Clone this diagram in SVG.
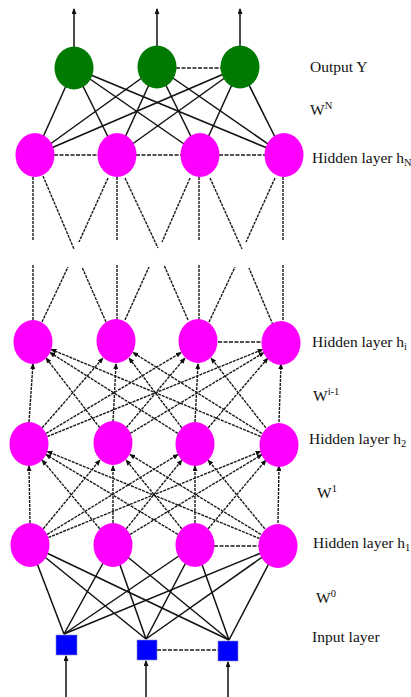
<svg xmlns="http://www.w3.org/2000/svg" width="411" height="697" viewBox="0 0 411 697">
<defs>
<marker id="ah" markerWidth="6" markerHeight="5" refX="5" refY="2.5" orient="auto" markerUnits="userSpaceOnUse"><path d="M0,0 L6,2.5 L0,5 z" fill="#111"/></marker>
<style>
.s{stroke:#111;stroke-width:1.5;fill:none}
.d{stroke:#1a1a1a;stroke-width:1.4;fill:none;stroke-dasharray:3 1}
.h{stroke:#1a1a1a;stroke-width:1.6;fill:none;stroke-dasharray:4 1.5}
.a{marker-end:url(#ah)}
.g{fill:#007a00}
.m{fill:#ff00ff}
.b{fill:#0000ff;stroke:#8888cc;stroke-width:0.6}
text{font-family:"Liberation Serif","Times New Roman",serif;font-size:15.5px;fill:#111}
.sub{font-size:10.5px}
</style>
</defs>
<rect width="411" height="697" fill="#fff"/>
<g id="connectors">
<line class="s a" x1="74" y1="47" x2="74" y2="9"/>
<line class="s a" x1="157" y1="46" x2="157" y2="9"/>
<line class="s a" x1="240" y1="46" x2="240" y2="9"/>
<g class="s">
<line x1="74" y1="68" x2="35" y2="155"/><line x1="74" y1="68" x2="117" y2="155"/><line x1="74" y1="68" x2="200" y2="155"/><line x1="74" y1="68" x2="284" y2="155"/>
<line x1="157" y1="67" x2="35" y2="155"/><line x1="157" y1="67" x2="117" y2="155"/><line x1="157" y1="67" x2="200" y2="155"/><line x1="157" y1="67" x2="284" y2="155"/>
<line x1="240" y1="67" x2="35" y2="155"/><line x1="240" y1="67" x2="117" y2="155"/><line x1="240" y1="67" x2="200" y2="155"/><line x1="240" y1="67" x2="284" y2="155"/>
</g>
<line class="h" x1="176" y1="68" x2="221" y2="68"/>
<line class="h" x1="54" y1="155" x2="98" y2="155"/>
<line class="h" x1="136" y1="155" x2="181" y2="155"/>
<line class="h" x1="219" y1="155" x2="265" y2="155"/>
<g class="d">
<line x1="33" y1="177" x2="33" y2="241"/><line x1="117" y1="177" x2="117" y2="241"/><line x1="199" y1="177" x2="199" y2="241"/><line x1="283" y1="177" x2="283" y2="241"/>
<line x1="43" y1="176" x2="74" y2="249"/><line x1="108" y1="178" x2="79" y2="242"/><line x1="125" y1="178" x2="158" y2="248"/>
<line x1="190" y1="178" x2="162" y2="242"/><line x1="210" y1="178" x2="242" y2="249"/><line x1="275" y1="178" x2="246" y2="242"/>
<line x1="33" y1="265" x2="33" y2="320"/><line x1="117" y1="265" x2="117" y2="320"/><line x1="199" y1="265" x2="199" y2="320"/><line x1="283" y1="265" x2="283" y2="320"/>
<line x1="42" y1="322" x2="68" y2="267"/><line x1="106" y1="322" x2="82" y2="267"/><line x1="125" y1="320" x2="149" y2="267"/>
<line x1="188" y1="320" x2="164" y2="265"/><line x1="209" y1="322" x2="235" y2="267"/><line x1="273" y1="325" x2="249" y2="268"/>
</g>
<line class="h" x1="218" y1="342" x2="262" y2="342"/>
<g class="d a">
<line x1="29" y1="422" x2="33" y2="364"/>
<line x1="42.2" y1="427.8" x2="102.8" y2="358.2"/>
<line x1="46.1" y1="433.4" x2="180.9" y2="352.6"/>
<line x1="47.4" y1="436.5" x2="262.6" y2="349.5"/>
<line x1="99.8" y1="427.8" x2="46.2" y2="358.2"/>
<line x1="113" y1="422" x2="116" y2="364"/>
<line x1="126.2" y1="427.8" x2="184.8" y2="358.2"/>
<line x1="130.1" y1="433.4" x2="263.9" y2="352.6"/>
<line x1="177.9" y1="433.4" x2="50.1" y2="352.6"/>
<line x1="181.8" y1="427.8" x2="129.2" y2="358.2"/>
<line x1="195" y1="422" x2="198" y2="364"/>
<line x1="208.2" y1="427.8" x2="267.8" y2="358.2"/>
<line x1="260.6" y1="436.5" x2="51.4" y2="349.5"/>
<line x1="261.9" y1="433.4" x2="133.1" y2="352.6"/>
<line x1="265.8" y1="427.8" x2="211.2" y2="358.2"/>
<line x1="279" y1="422" x2="281" y2="364"/>
</g>
<g class="d a">
<line x1="30" y1="523" x2="29" y2="466"/>
<line x1="43.2" y1="528.8" x2="99.8" y2="460.2"/>
<line x1="47.1" y1="534.4" x2="177.9" y2="454.6"/>
<line x1="48.4" y1="537.5" x2="260.6" y2="451.5"/>
<line x1="99.8" y1="528.8" x2="42.2" y2="460.2"/>
<line x1="113" y1="523" x2="113" y2="466"/>
<line x1="126.2" y1="528.8" x2="181.8" y2="460.2"/>
<line x1="130.1" y1="534.4" x2="261.9" y2="454.6"/>
<line x1="177.9" y1="534.4" x2="46.1" y2="454.6"/>
<line x1="181.8" y1="528.8" x2="126.2" y2="460.2"/>
<line x1="195" y1="523" x2="195" y2="466"/>
<line x1="208.2" y1="528.8" x2="265.8" y2="460.2"/>
<line x1="259.6" y1="538.5" x2="47.4" y2="451.5"/>
<line x1="260.9" y1="534.4" x2="130.1" y2="454.6"/>
<line x1="264.8" y1="528.8" x2="208.2" y2="460.2"/>
<line x1="278" y1="523" x2="279" y2="466"/>
</g>
<line class="h" x1="214" y1="546" x2="259" y2="546"/>
<g class="s">
<line x1="64" y1="634" x2="30" y2="545"/><line x1="64" y1="634" x2="113" y2="545"/><line x1="64" y1="634" x2="195" y2="545"/><line x1="64" y1="634" x2="278" y2="546"/>
<line x1="146" y1="639" x2="30" y2="545"/><line x1="146" y1="639" x2="113" y2="545"/><line x1="146" y1="639" x2="195" y2="545"/><line x1="146" y1="639" x2="278" y2="546"/>
<line x1="229" y1="640" x2="30" y2="545"/><line x1="229" y1="640" x2="113" y2="545"/><line x1="229" y1="640" x2="195" y2="545"/><line x1="229" y1="640" x2="278" y2="546"/>
</g>
<line class="h" x1="157" y1="650" x2="218" y2="650"/>
<line class="s a" x1="66" y1="697" x2="66" y2="656"/>
<line class="s a" x1="146" y1="697" x2="146" y2="661"/>
<line class="s a" x1="228" y1="697" x2="228" y2="662"/>
</g>
<g id="output-1"><ellipse class="g" cx="74" cy="68" rx="19.5" ry="21.5"/></g>
<g id="output-2"><ellipse class="g" cx="157" cy="67" rx="19.5" ry="21.5"/></g>
<g id="output-3"><ellipse class="g" cx="240" cy="67" rx="19.5" ry="21.5"/></g>
<g id="hN-1"><ellipse class="m" cx="35" cy="155" rx="19.5" ry="22"/></g>
<g id="hN-2"><ellipse class="m" cx="117" cy="155" rx="19.5" ry="22"/></g>
<g id="hN-3"><ellipse class="m" cx="200" cy="155" rx="19.5" ry="22"/></g>
<g id="hN-4"><ellipse class="m" cx="284" cy="155" rx="19.5" ry="22"/></g>
<g id="hi-1"><ellipse class="m" cx="33" cy="342" rx="19.5" ry="22"/></g>
<g id="hi-2"><ellipse class="m" cx="116" cy="341" rx="19.5" ry="22"/></g>
<g id="hi-3"><ellipse class="m" cx="198" cy="341" rx="19.5" ry="22"/></g>
<g id="hi-4"><ellipse class="m" cx="281" cy="343" rx="19.5" ry="22"/></g>
<g id="h2-1"><ellipse class="m" cx="29" cy="444" rx="19.5" ry="22"/></g>
<g id="h2-2"><ellipse class="m" cx="113" cy="443" rx="19.5" ry="22"/></g>
<g id="h2-3"><ellipse class="m" cx="195" cy="444" rx="19.5" ry="22"/></g>
<g id="h2-4"><ellipse class="m" cx="279" cy="445" rx="19.5" ry="22"/></g>
<g id="h1-1"><ellipse class="m" cx="30" cy="545" rx="19.5" ry="22"/></g>
<g id="h1-2"><ellipse class="m" cx="113" cy="545" rx="19.5" ry="22"/></g>
<g id="h1-3"><ellipse class="m" cx="195" cy="545" rx="19.5" ry="22"/></g>
<g id="h1-4"><ellipse class="m" cx="278" cy="546" rx="19.5" ry="22"/></g>
<g id="input-1"><rect class="b" x="56" y="635" width="21" height="20"/></g>
<g id="input-2"><rect class="b" x="137" y="640" width="20" height="20"/></g>
<g id="input-3"><rect class="b" x="218" y="641" width="20" height="20"/></g>
<g id="labels">
<text x="310" y="72">Output Y</text>
<text x="310" y="115">W<tspan class="sub" dy="-6">N</tspan></text>
<text x="312" y="163">Hidden layer h<tspan class="sub" dy="3">N</tspan></text>
<text x="312" y="347">Hidden layer h<tspan class="sub" dy="3">i</tspan></text>
<text x="313" y="401">W<tspan class="sub" dy="-6">i-1</tspan></text>
<text x="309" y="444">Hidden layer h<tspan class="sub" dy="3">2</tspan></text>
<text x="317" y="498">W<tspan class="sub" dy="-6">1</tspan></text>
<text x="313" y="548">Hidden layer h<tspan class="sub" dy="3">1</tspan></text>
<text x="316" y="603">W<tspan class="sub" dy="-6">0</tspan></text>
<text x="312" y="642">Input layer</text>
</g>
</svg>
